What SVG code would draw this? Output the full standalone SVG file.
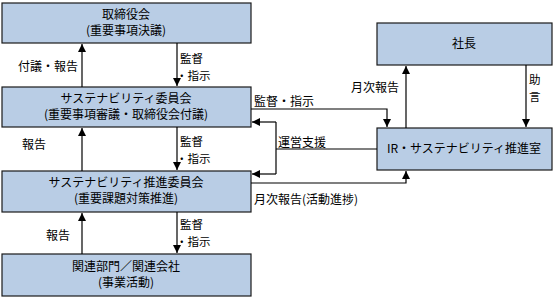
<svg xmlns="http://www.w3.org/2000/svg" width="553" height="299" viewBox="0 0 553 299">
<style>
.box{fill:#b9cde5;stroke:#1a1a1a;stroke-width:1.2}
.t{font-family:"Noto Sans CJK JP","Noto Sans CJK SC",sans-serif;font-size:12px;fill:#000}
.s{font-size:11.5px}
.c{text-anchor:middle}
.ln{fill:none;stroke:#000;stroke-width:1.2}
</style>
<defs>
<marker id="ah" viewBox="0 0 10 10" refX="10" refY="5" markerWidth="8" markerHeight="8" markerUnits="userSpaceOnUse" orient="auto">
<path d="M0,0 L10,5 L0,10 Z" fill="#000"/>
</marker>
</defs>
<rect width="553" height="299" fill="#fff"/>
<g id="n-board">
<rect class="box" x="2" y="3" width="249" height="40"/>
<text class="t c" x="126" y="19">取締役会</text>
<text class="t c" x="126" y="35">(重要事項決議)</text>
</g>
<g id="n-sc">
<rect class="box" x="2" y="87" width="249" height="40"/>
<text class="t c" x="126" y="103">サステナビリティ委員会</text>
<text class="t c" x="126" y="119">(重要事項審議・取締役会付議)</text>
</g>
<g id="n-spc">
<rect class="box" x="2" y="171" width="249" height="41"/>
<text class="t c" x="126" y="187">サステナビリティ推進委員会</text>
<text class="t c" x="126" y="203">(重要課題対策推進)</text>
</g>
<g id="n-dept">
<rect class="box" x="2" y="254" width="249" height="42"/>
<text class="t c" x="126" y="271">関連部門／関連会社</text>
<text class="t c" x="126" y="287">(事業活動)</text>
</g>
<g id="n-pres">
<rect class="box" x="377" y="23" width="175" height="42"/>
<text class="t c" x="464" y="48">社長</text>
</g>
<g id="n-ir">
<rect class="box" x="377" y="128" width="175" height="42"/>
<text class="t c" x="464" y="153">IR・サステナビリティ推進室</text>
</g>
<g id="connectors">
<line class="ln" x1="82" y1="87" x2="82" y2="44" marker-end="url(#ah)"/>
<line class="ln" x1="177" y1="43" x2="177" y2="86" marker-end="url(#ah)"/>
<line class="ln" x1="82" y1="171" x2="82" y2="128" marker-end="url(#ah)"/>
<line class="ln" x1="177" y1="127" x2="177" y2="170" marker-end="url(#ah)"/>
<line class="ln" x1="82" y1="254" x2="82" y2="213" marker-end="url(#ah)"/>
<line class="ln" x1="177" y1="212" x2="177" y2="253" marker-end="url(#ah)"/>
<polyline class="ln" points="251,109 387,109 387,127" marker-end="url(#ah)"/>
<line class="ln" x1="377" y1="149" x2="276" y2="149"/>
<polyline class="ln" points="276,122 276,174"/>
<line class="ln" x1="276" y1="122" x2="252" y2="122" marker-end="url(#ah)"/>
<line class="ln" x1="276" y1="174" x2="252" y2="174" marker-end="url(#ah)"/>
<polyline class="ln" points="251,183 406,183 406,171" marker-end="url(#ah)"/>
<line class="ln" x1="406" y1="128" x2="406" y2="66" marker-end="url(#ah)"/>
<line class="ln" x1="526" y1="65" x2="526" y2="127" marker-end="url(#ah)"/>
</g>
<g id="labels">
<text class="t" x="18" y="71">付議・報告</text>
<text class="t s" x="180" y="63">監督</text>
<text class="t s" x="176" y="80">・指示</text>
<text class="t" x="22" y="149">報告</text>
<text class="t s" x="180" y="146">監督</text>
<text class="t s" x="176" y="163">・指示</text>
<text class="t" x="46" y="240">報告</text>
<text class="t s" x="180" y="229">監督</text>
<text class="t s" x="176" y="246">・指示</text>
<text class="t" x="254" y="106">監督・指示</text>
<text class="t" x="278" y="147">運営支援</text>
<text class="t" x="254" y="204">月次報告(活動進捗)</text>
<text class="t" x="351" y="92">月次報告</text>
<text class="t s" x="529" y="84">助</text>
<text class="t s" x="529" y="101">言</text>
</g>
</svg>
